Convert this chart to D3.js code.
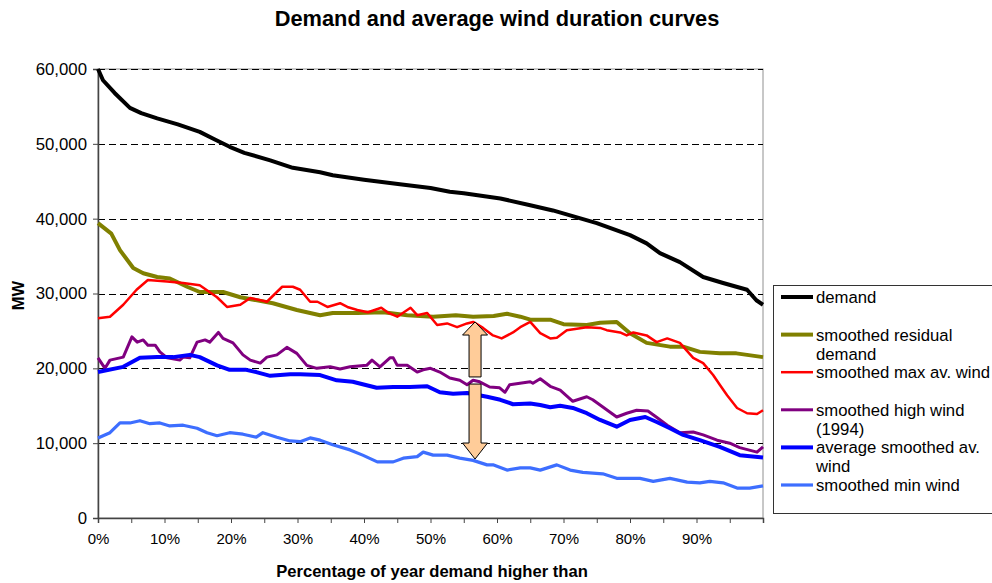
<!DOCTYPE html>
<html>
<head>
<meta charset="utf-8">
<script src="https://cdn.jsdelivr.net/npm/d3@7"></script>
<style>
  html, body { margin: 0; padding: 0; background: #fff; }
  svg { display: block; font-family: "Liberation Sans", Arial, sans-serif; }
</style>
</head>
<body>
<svg id="chart" width="992" height="583"></svg>
<script>
// ---------- DATA ----------
const chartTitle = "Demand and average wind duration curves";
const xAxisTitle = "Percentage of year demand higher than";
const yAxisTitle = "MW";
const yTicks = [0, 10000, 20000, 30000, 40000, 50000, 60000];
const xTickMarks = [0,5,10,15,20,25,30,35,40,45,50,55,60,65,70,75,80,85,90,95,100];
const xTickLabels = [0,10,20,30,40,50,60,70,80,90];

// [percent, MW]
const demand = [[0,60000],[0.75,58500],[2.5,56800],[4.8,54800],[6.5,54100],[8.9,53400],[12,52600],[15.3,51600],[17.5,50600],[19.8,49600],[22,48800],[25.9,47800],[29.3,46800],[33.4,46200],[35.3,45800],[40,45200],[45.4,44600],[50,44100],[52.9,43600],[55,43400],[60.5,42700],[65,41800],[68.4,41100],[75,39400],[80,37800],[82.5,36700],[84.5,35400],[87.5,34200],[91,32200],[94,31400],[97.6,30500],[99,29100],[100,28500]];

const residual = [[0,39400],[2,38000],[3.3,35800],[5.3,33400],[6.8,32700],[8.9,32200],[10.8,32000],[13.4,30900],[15.3,30200],[18.8,30200],[21.4,29500],[26.3,28700],[29.9,27800],[33.4,27100],[35.3,27400],[39,27400],[42.9,27500],[46.5,27100],[50.4,26900],[53.8,27100],[56.4,26900],[59.5,27000],[61.5,27300],[63.5,26900],[65,26500],[68,26500],[70,25900],[73.5,25800],[75.5,26100],[78,26200],[80,24700],[82.5,23400],[86,22900],[88,22900],[90.5,22200],[93.5,22000],[96,22000],[100,21500]];

const maxWind = [[0,26700],[1.8,26900],[3.8,28500],[5.8,30500],[7.5,31800],[10.4,31600],[12.8,31400],[15.3,31100],[17.9,29500],[19.4,28200],[21.4,28500],[22.9,29400],[25.4,28900],[27.7,30900],[29.3,30900],[30.4,30500],[31.9,28900],[33,28900],[34.5,28200],[36.4,28700],[37.5,28200],[39,27800],[40.6,27500],[42.6,28100],[43.7,27400],[45,26900],[47,28100],[48,27100],[49.5,27400],[51,25800],[52.5,26000],[54,25500],[55.5,26000],[56.4,26200],[57.9,25400],[59.4,24400],[60.7,24000],[62.4,24800],[63.5,25500],[65,26200],[66.5,24700],[68,24000],[69,24100],[70.5,25100],[73.5,25500],[75.5,25400],[76.5,25100],[78.5,24800],[79.5,24400],[80.5,24800],[82.5,24400],[84,23500],[85.6,24000],[87.5,23400],[88.5,22400],[89.5,21400],[91,20700],[92.5,19100],[93.5,17800],[94.6,16400],[96.1,14700],[97.6,14000],[99.1,13900],[100,14400]];

const highWind = [[0,21400],[1.05,20000],[1.8,21100],[3.8,21500],[5.1,24200],[5.9,23500],[6.8,23800],[7.5,23100],[8.6,23100],[9.3,22200],[10.4,21400],[12.3,21100],[12.8,21500],[13.8,21400],[14.9,23500],[16.1,23800],[16.8,23500],[18.1,24800],[18.8,24000],[20.3,23400],[21.8,21800],[22.9,21100],[24.4,20700],[25.4,21500],[26.9,21800],[28.4,22800],[29.9,22000],[31.4,20400],[32.9,20000],[34.9,20200],[36.4,19900],[37.9,20200],[40.4,20400],[41.2,21100],[42.4,20200],[43.9,21400],[44.4,21400],[45,20400],[46.5,20400],[48,19500],[48.9,19800],[50,20000],[51.4,19500],[52.9,18700],[54.4,18400],[55.5,17800],[56.4,18400],[57.4,18200],[58.9,17500],[60.4,17400],[61.2,16800],[61.9,17800],[65,18200],[65.4,18000],[66.5,18600],[68,17600],[69.5,17100],[71.4,15600],[73.5,16200],[74.4,15800],[75.5,15100],[78,13500],[79.5,14000],[81,14400],[82.7,14300],[84.1,13400],[85.6,12400],[87.5,11400],[89.5,11500],[91,11100],[93.1,10400],[95,10000],[96.5,9400],[99.1,8800],[100,9500]];

const avgWind = [[0,19500],[3.8,20200],[6.3,21400],[8.9,21500],[11.3,21500],[13.8,21800],[15.3,21500],[17.9,20400],[19.8,19800],[22.3,19800],[23.8,19500],[25.9,19000],[28.9,19200],[30.4,19200],[33.4,19100],[35.9,18400],[38.3,18200],[41.9,17400],[44.4,17500],[46.9,17500],[49.5,17600],[51.4,16800],[53.4,16600],[55.5,16700],[58.5,16200],[60.5,15800],[62.4,15200],[65,15300],[66.5,15100],[68,14800],[69.5,15000],[71.4,14700],[73.5,14000],[75.5,13100],[78,12200],[80,13100],[82.3,13500],[84.1,12800],[86,12000],[88,11100],[90.5,10400],[93.5,9500],[96.5,8400],[100,8100]];

const minWind = [[0,10700],[1.8,11400],[3.3,12700],[4.8,12700],[6.3,13000],[7.8,12600],[9.3,12700],[10.8,12300],[12.8,12400],[14.9,12000],[16.4,11400],[17.9,11000],[19.8,11400],[21.8,11200],[23.8,10800],[24.8,11400],[26.9,10800],[28.9,10300],[30.4,10200],[31.9,10700],[33.4,10400],[35.3,9800],[37.9,9100],[39.8,8400],[42,7500],[44.4,7500],[45.9,8000],[48,8200],[48.9,8800],[50.4,8400],[52.5,8400],[54.4,8000],[56.4,7700],[58.5,7100],[59.4,7100],[61.5,6400],[63.5,6700],[65,6700],[66.5,6400],[69,7100],[71,6400],[72.9,6100],[75.9,5900],[78,5300],[81.5,5300],[83.5,4900],[86,5300],[88.6,4800],[90.5,4700],[92,4900],[94,4700],[96.1,4000],[98,4000],[100,4300]];

const seriesNames = ["demand", "smoothed residual demand", "smoothed max av. wind", "smoothed high wind (1994)", "average smoothed av. wind", "smoothed min wind"];
const legendLines = [["demand"], ["smoothed residual", "demand"], ["smoothed max av. wind"], ["smoothed high wind", "(1994)"], ["average smoothed av.", "wind"], ["smoothed min wind"]];
const seriesColors = ["#000000", "#808000", "#FF0000", "#800080", "#0000FF", "#3D6EFF"];
const seriesWidths = [4, 4, 2.5, 3, 4, 3.2];
const seriesData = [demand, residual, maxWind, highWind, avgWind, minWind];

// double arrow (percent, MW levels)
const arrowPct = 56.7;
const arrowLevels = { topTip: 26200, topHeadBase: 24450, topShaftEnd: 18850, botShaftStart: 17900, botHeadBase: 10020, botTip: 7880 };

// ---------- LAYOUT ----------
const svg = d3.select("#chart");
const plot = { left: 98, right: 763, top: 69, bottom: 518 };
const x = d3.scaleLinear().domain([0, 100]).range([plot.left, plot.right]);
const y = d3.scaleLinear().domain([0, 60000]).range([plot.bottom, plot.top]);

// plot border (gray)
svg.append("rect")
  .attr("x", plot.left).attr("y", plot.top)
  .attr("width", plot.right - plot.left).attr("height", plot.bottom - plot.top)
  .attr("fill", "none").attr("stroke", "#909090").attr("stroke-width", 1);

// gridlines
svg.append("g").selectAll("line")
  .data(yTicks.filter(d => d > 0))
  .join("line")
  .attr("x1", plot.left).attr("x2", plot.right)
  .attr("y1", d => Math.round(y(d)) + 0.5).attr("y2", d => Math.round(y(d)) + 0.5)
  .attr("stroke", "#000").attr("stroke-width", 1)
  .attr("stroke-dasharray", "7,4");

// y axis
const yAxis = d3.axisLeft(y).tickValues(yTicks).tickSize(5).tickPadding(6)
  .tickFormat(d3.format(","));
const gy = svg.append("g").attr("transform", `translate(${plot.left},0)`).call(yAxis);
gy.select(".domain").attr("stroke", "#444").attr("stroke-width", 1.5);
gy.selectAll(".tick line").attr("stroke", "#444");
gy.selectAll(".tick text").attr("font-size", 16.8).attr("fill", "#000")
  .attr("font-family", "Liberation Sans, Arial, sans-serif");

// x axis
const xAxis = d3.axisBottom(x).tickValues(xTickMarks).tickSize(5).tickPadding(10)
  .tickFormat(d => xTickLabels.includes(d) ? d + "%" : "");
const gx = svg.append("g").attr("transform", `translate(0,${plot.bottom})`).call(xAxis);
gx.select(".domain").attr("stroke", "#444").attr("stroke-width", 1.5);
gx.selectAll(".tick line").attr("stroke", "#444");
gx.selectAll(".tick text").attr("font-size", 15).attr("fill", "#000")
  .attr("font-family", "Liberation Sans, Arial, sans-serif");

// series lines
const line = d3.line().x(d => x(d[0])).y(d => y(d[1]));
svg.append("g").selectAll("path")
  .data(seriesData)
  .join("path")
  .attr("d", d => line(d))
  .attr("fill", "none")
  .attr("stroke", (d, i) => seriesColors[i])
  .attr("stroke-width", (d, i) => seriesWidths[i])
  .attr("stroke-linejoin", "round")
  .attr("stroke-linecap", "butt");

// double arrow
const ax = x(arrowPct), hw = 12.5, sw = 6;
function arrowPath(tipY, baseY, endY) {
  return `M${ax},${tipY} L${ax + hw},${baseY} L${ax + sw},${baseY} L${ax + sw},${endY} L${ax - sw},${endY} L${ax - sw},${baseY} L${ax - hw},${baseY} Z`;
}
const ag = svg.append("g");
ag.append("path")
  .attr("d", arrowPath(y(arrowLevels.topTip), y(arrowLevels.topHeadBase), y(arrowLevels.topShaftEnd)))
  .attr("fill", "#FFCC99").attr("stroke", "#000").attr("stroke-width", 1);
ag.append("path")
  .attr("d", arrowPath(y(arrowLevels.botTip), y(arrowLevels.botHeadBase), y(arrowLevels.botShaftStart)))
  .attr("fill", "#FFCC99").attr("stroke", "#000").attr("stroke-width", 1);

// title
svg.append("text")
  .attr("x", 497).attr("y", 26)
  .attr("text-anchor", "middle")
  .attr("font-size", 21.8).attr("font-weight", "bold")
  .text(chartTitle);

// axis titles
svg.append("text")
  .attr("x", 432).attr("y", 577)
  .attr("text-anchor", "middle")
  .attr("font-size", 16.6).attr("font-weight", "bold")
  .text(xAxisTitle);
svg.append("text")
  .attr("transform", `translate(24,${(plot.top + plot.bottom) / 2 + 2}) rotate(-90)`)
  .attr("text-anchor", "middle")
  .attr("font-size", 16.5).attr("font-weight", "bold")
  .text(yAxisTitle);

// legend
const lg = svg.append("g");
lg.append("rect")
  .attr("x", 773.5).attr("y", 285.5).attr("width", 240).attr("height", 228)
  .attr("fill", "#fff").attr("stroke", "#333").attr("stroke-width", 1);
const entryY = i => 297 + i * 37.6;
const items = lg.selectAll("g.item").data(seriesNames).join("g").attr("class", "item");
items.append("line")
  .attr("x1", 781).attr("x2", 813)
  .attr("y1", (d, i) => entryY(i)).attr("y2", (d, i) => entryY(i))
  .attr("stroke", (d, i) => seriesColors[i])
  .attr("stroke-width", (d, i) => seriesWidths[i]);
items.append("text")
  .attr("x", 816)
  .attr("y", (d, i) => entryY(i))
  .attr("font-size", 16.7)
  .attr("dominant-baseline", "central")
  .each(function(d, i) {
    d3.select(this).selectAll("tspan").data(legendLines[i]).join("tspan")
      .attr("x", 816)
      .attr("dy", (t, j) => j === 0 ? 0 : 19)
      .text(t => t);
  });
</script>
</body>
</html>
